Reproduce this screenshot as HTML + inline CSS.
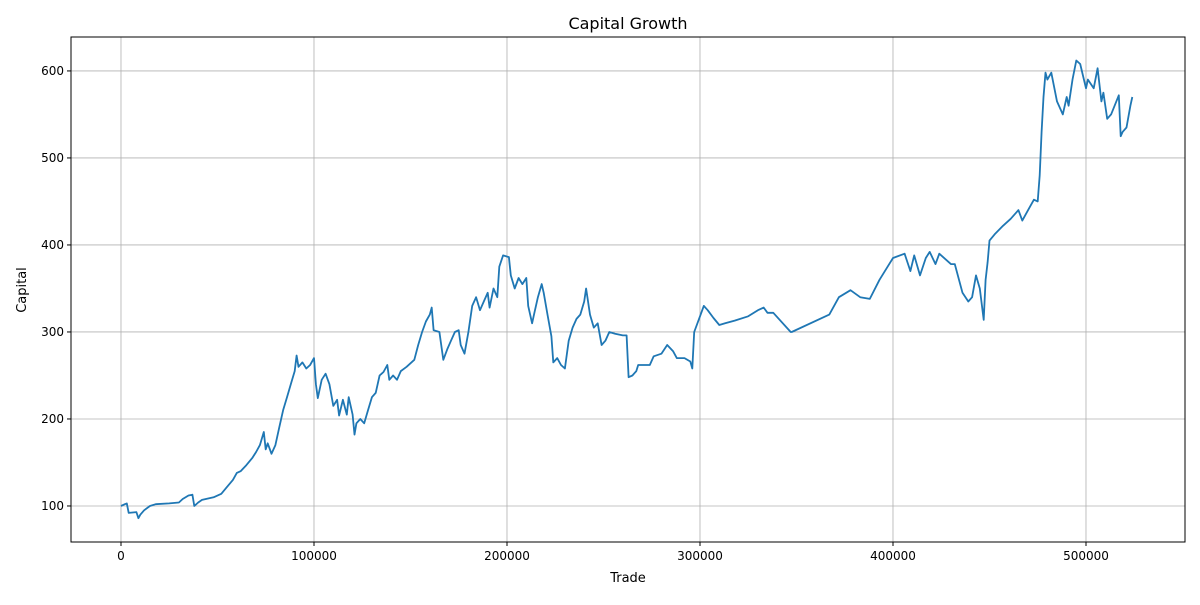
<!DOCTYPE html>
<html><head><meta charset="utf-8"><style>
body{margin:0;background:#fff;font-family:"Liberation Sans","DejaVu Sans",sans-serif}
</style></head><body>
<svg id="chart" width="1200" height="600" xmlns="http://www.w3.org/2000/svg" font-family="DejaVu Sans, Liberation Sans, sans-serif">
<rect width="1200" height="600" fill="#fff"/>
<text x="628" y="29" font-size="16" text-anchor="middle">Capital Growth</text>
<text x="628" y="582" font-size="13" text-anchor="middle">Trade</text>
<text transform="translate(26,290) rotate(-90)" font-size="13" text-anchor="middle">Capital</text>
<g id="grid"></g><g id="ticks"></g>
<polyline id="line" fill="none" stroke="#1f77b4" stroke-width="1.8" stroke-linejoin="round"/>
<rect x="71" y="37" width="1114" height="505" fill="none" stroke="#000" stroke-width="1"/>
</svg>
<script>
const xTicks=[0,100000,200000,300000,400000,500000];
const yTicks=[100,200,300,400,500,600];
const trades=[0,2,3,4,8,9,10,12,15,18,25,30,32,35,37,38,40,42,48,52,55,58,60,62,65,68,70,72,74,75,76,78,80,82,84,86,88,90,91,92,94,96,98,100,101,102,104,106,108,110,112,113,115,117,118,120,121,122,124,126,128,130,132,134,136,138,139,141,143,145,148,152,154,156,158,160,161,162,165,167,169,171,173,175,176,178,180,182,184,186,188,190,191,193,195,196,198,201,202,204,206,208,210,211,213,214,216,218,219,221,223,224,226,228,230,232,234,236,238,240,241,243,245,247,249,251,253,256,260,262,263,265,267,268,274,276,280,283,286,288,292,295,296,297,300,302,304,307,310,313,318,325,330,333,335,338,347,347.5,367,372,378,383,388,393,400,406,409,411,414,417,419,422,424,430,432,436,439,441,443,445,447,448,449,450,453,457,461,465,467,470,473,475,476,477,478,479,480,482,485,488,490,491,493,495,497,500,501,504,506,508,509,511,513,517,518,519,521,523,524,525];
const capital=[100,102,103,92,93,86,90,95,100,102,103,104,108,112,113,100,104,107,110,114,122,130,138,140,147,155,162,170,185,165,172,160,170,190,210,225,240,255,273,260,265,258,262,270,240,224,245,252,240,215,222,204,222,205,225,205,182,195,200,195,210,225,230,250,254,262,245,250,245,255,260,268,285,300,312,320,328,302,300,268,280,290,300,302,285,275,300,330,340,325,335,345,328,350,340,375,388,386,365,350,362,355,362,330,310,320,340,355,345,320,295,265,270,262,258,290,305,315,320,335,350,320,305,310,285,290,300,298,296,296,248,250,255,262,262,272,275,285,278,270,270,266,258,300,318,330,325,316,308,310,313,318,325,328,322,322,300,300,320,340,348,340,338,360,385,390,370,388,365,385,392,378,390,378,378,345,335,340,365,350,314,360,380,405,413,422,430,440,428,440,452,450,480,530,570,598,590,598,565,550,570,560,590,612,608,580,590,580,603,565,575,545,550,572,525,530,535,560,570];
const L=71,R=1185,T=37,B=542,xMin=-25900,xMax=551300,yMin=58.6,yMax=639;
const sx=v=>L+(v-xMin)/(xMax-xMin)*(R-L);
const sy=v=>B-(v-yMin)/(yMax-yMin)*(B-T);
const NS="http://www.w3.org/2000/svg";
const grid=document.getElementById('grid'),ticks=document.getElementById('ticks');
function mk(tag,attrs,parent){const e=document.createElementNS(NS,tag);for(const k in attrs)e.setAttribute(k,attrs[k]);parent.appendChild(e);return e;}
xTicks.forEach(v=>{const x=sx(v);
 const g=mk('line',{x1:x,x2:x,y1:T,y2:B,stroke:'#b0b0b0','stroke-width':0.8},grid);
 
 
 mk('line',{x1:x,x2:x,y1:B,y2:B+4,stroke:'#000'},ticks);
 const t=mk('text',{x:x,y:B+18,'font-size':12,'text-anchor':'middle'},ticks);t.textContent=v;
 
 });
yTicks.forEach(v=>{const y=sy(v);
 const g=mk('line',{x1:L,x2:R,y1:y,y2:y,stroke:'#b0b0b0','stroke-width':0.8},grid);
 
 
 mk('line',{x1:L-4,x2:L,y1:y,y2:y,stroke:'#000'},ticks);
 const t=mk('text',{x:L-7,y:y+4,'font-size':12,'text-anchor':'end'},ticks);t.textContent=v;
 
 });
document.getElementById('line').setAttribute('points',trades.map((t,i)=>sx(t*1000).toFixed(1)+','+sy(capital[i]).toFixed(1)).join(' '));
</script>
</body></html>
